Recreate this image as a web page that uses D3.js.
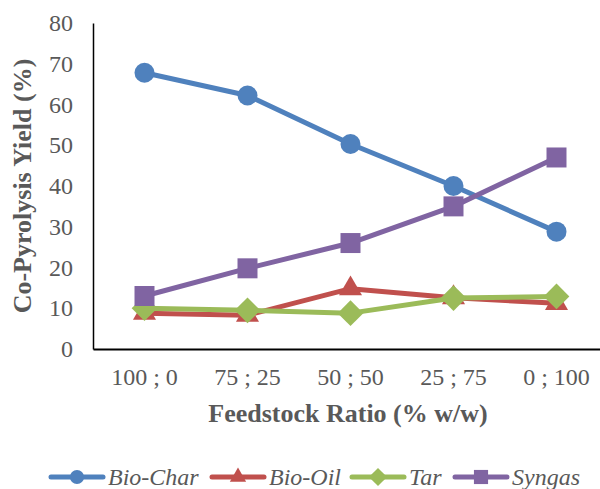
<!DOCTYPE html>
<html><head><meta charset="utf-8">
<script src="https://cdn.jsdelivr.net/npm/d3@7"></script>
<style>body{margin:0;background:#fff}svg{display:block}
svg text{font-family:"Liberation Serif","Times New Roman",serif}</style>
</head><body>
<svg id="c" width="600" height="489"></svg>
<script>
const categories = ["100 ; 0", "75 ; 25", "50 ; 50", "25 ; 75", "0 ; 100"];
const bioChar = [67.8, 62.2, 50.3, 40.0, 28.8];
const bioOil = [8.8, 8.3, 14.8, 12.6, 11.2];
const tar = [10.0, 9.5, 8.8, 12.5, 12.9];
const syngas = [13.0, 19.8, 26.0, 35.0, 47.0];
const yTicks = [0, 10, 20, 30, 40, 50, 60, 70, 80];
const seriesNames = ["Bio-Char", "Bio-Oil", "Tar", "Syngas"];

const diamond = {draw(ctx, size) {
  const r = Math.sqrt(size / 2);
  ctx.moveTo(0, -r); ctx.lineTo(r, 0); ctx.lineTo(0, r); ctx.lineTo(-r, 0); ctx.closePath();
}};

const series = [
  {name: seriesNames[0], values: bioChar, color: "#4F81BD", sym: d3.symbolCircle, size: 314},
  {name: seriesNames[1], values: bioOil, color: "#C0504D", sym: d3.symbolTriangle, size: 230},
  {name: seriesNames[2], values: tar, color: "#9BBB59", sym: diamond, size: 330},
  {name: seriesNames[3], values: syngas, color: "#8064A2", sym: d3.symbolSquare, size: 400}
];

const svg = d3.select("#c");
const L = 93, R = 608, T = 23, B = 349;
const x = d3.scaleBand().domain(categories).range([L, R]);
const y = d3.scaleLinear().domain([0, 80]).range([B, T]);

const ya = svg.append("g").attr("transform", `translate(${L},0)`)
  .call(d3.axisLeft(y).tickValues(yTicks).tickSize(0).tickPadding(20));
ya.select(".domain").attr("stroke", "#000").attr("stroke-width", 1.5);
ya.selectAll("text").attr("font-family", null).attr("font-size", 24).attr("fill", "#595959");
ya.attr("font-family", null);

const xa = svg.append("g").attr("transform", `translate(0,${B})`)
  .call(d3.axisBottom(x).tickSize(0).tickPadding(19));
xa.select(".domain").attr("stroke", "#000").attr("stroke-width", 2);
xa.selectAll("text").attr("font-size", 24).attr("fill", "#595959");
xa.attr("font-family", null);

svg.append("text").attr("x", 348).attr("y", 422).attr("text-anchor", "middle")
  .attr("font-size", 26).attr("font-weight", "bold").attr("fill", "#595959")
  .text("Feedstock Ratio (% w/w)");
svg.append("text").attr("transform", `translate(31,${(T+B)/2}) rotate(-90)`).attr("text-anchor", "middle")
  .attr("font-size", 26).attr("font-weight", "bold").attr("fill", "#595959")
  .text("Co-Pyrolysis Yield (%)");

const line = d3.line().x((d, i) => x(categories[i]) + x.bandwidth() / 2).y(d => y(d));
series.forEach(s => {
  const g = svg.append("g");
  g.append("path").attr("d", line(s.values)).attr("fill", "none")
    .attr("stroke", s.color).attr("stroke-width", 5).attr("stroke-linejoin", "round");
  g.selectAll("path.m").data(s.values).enter().append("path").attr("class", "m")
    .attr("transform", (d, i) => `translate(${x(categories[i]) + x.bandwidth() / 2},${y(d)})`)
    .attr("d", d3.symbol().type(s.sym).size(s.size)).attr("fill", s.color);
});

const legX = [49, 210, 350, 453];
const legY = 477;
series.forEach((s, i) => {
  const g = svg.append("g").attr("transform", `translate(${legX[i]},${legY})`);
  g.append("line").attr("x1", 2).attr("x2", 54).attr("y1", 0).attr("y2", 0)
    .attr("stroke", s.color).attr("stroke-width", 5).attr("stroke-linecap", "round");
  g.append("path").attr("transform", "translate(28,0)")
    .attr("d", d3.symbol().type(s.sym).size(s.size * 0.5)).attr("fill", s.color);
  g.append("text").attr("x", 59).attr("y", 8).attr("font-size", 24)
    .attr("font-style", "italic").attr("fill", "#595959").text(s.name);
});
</script>
</body></html>
